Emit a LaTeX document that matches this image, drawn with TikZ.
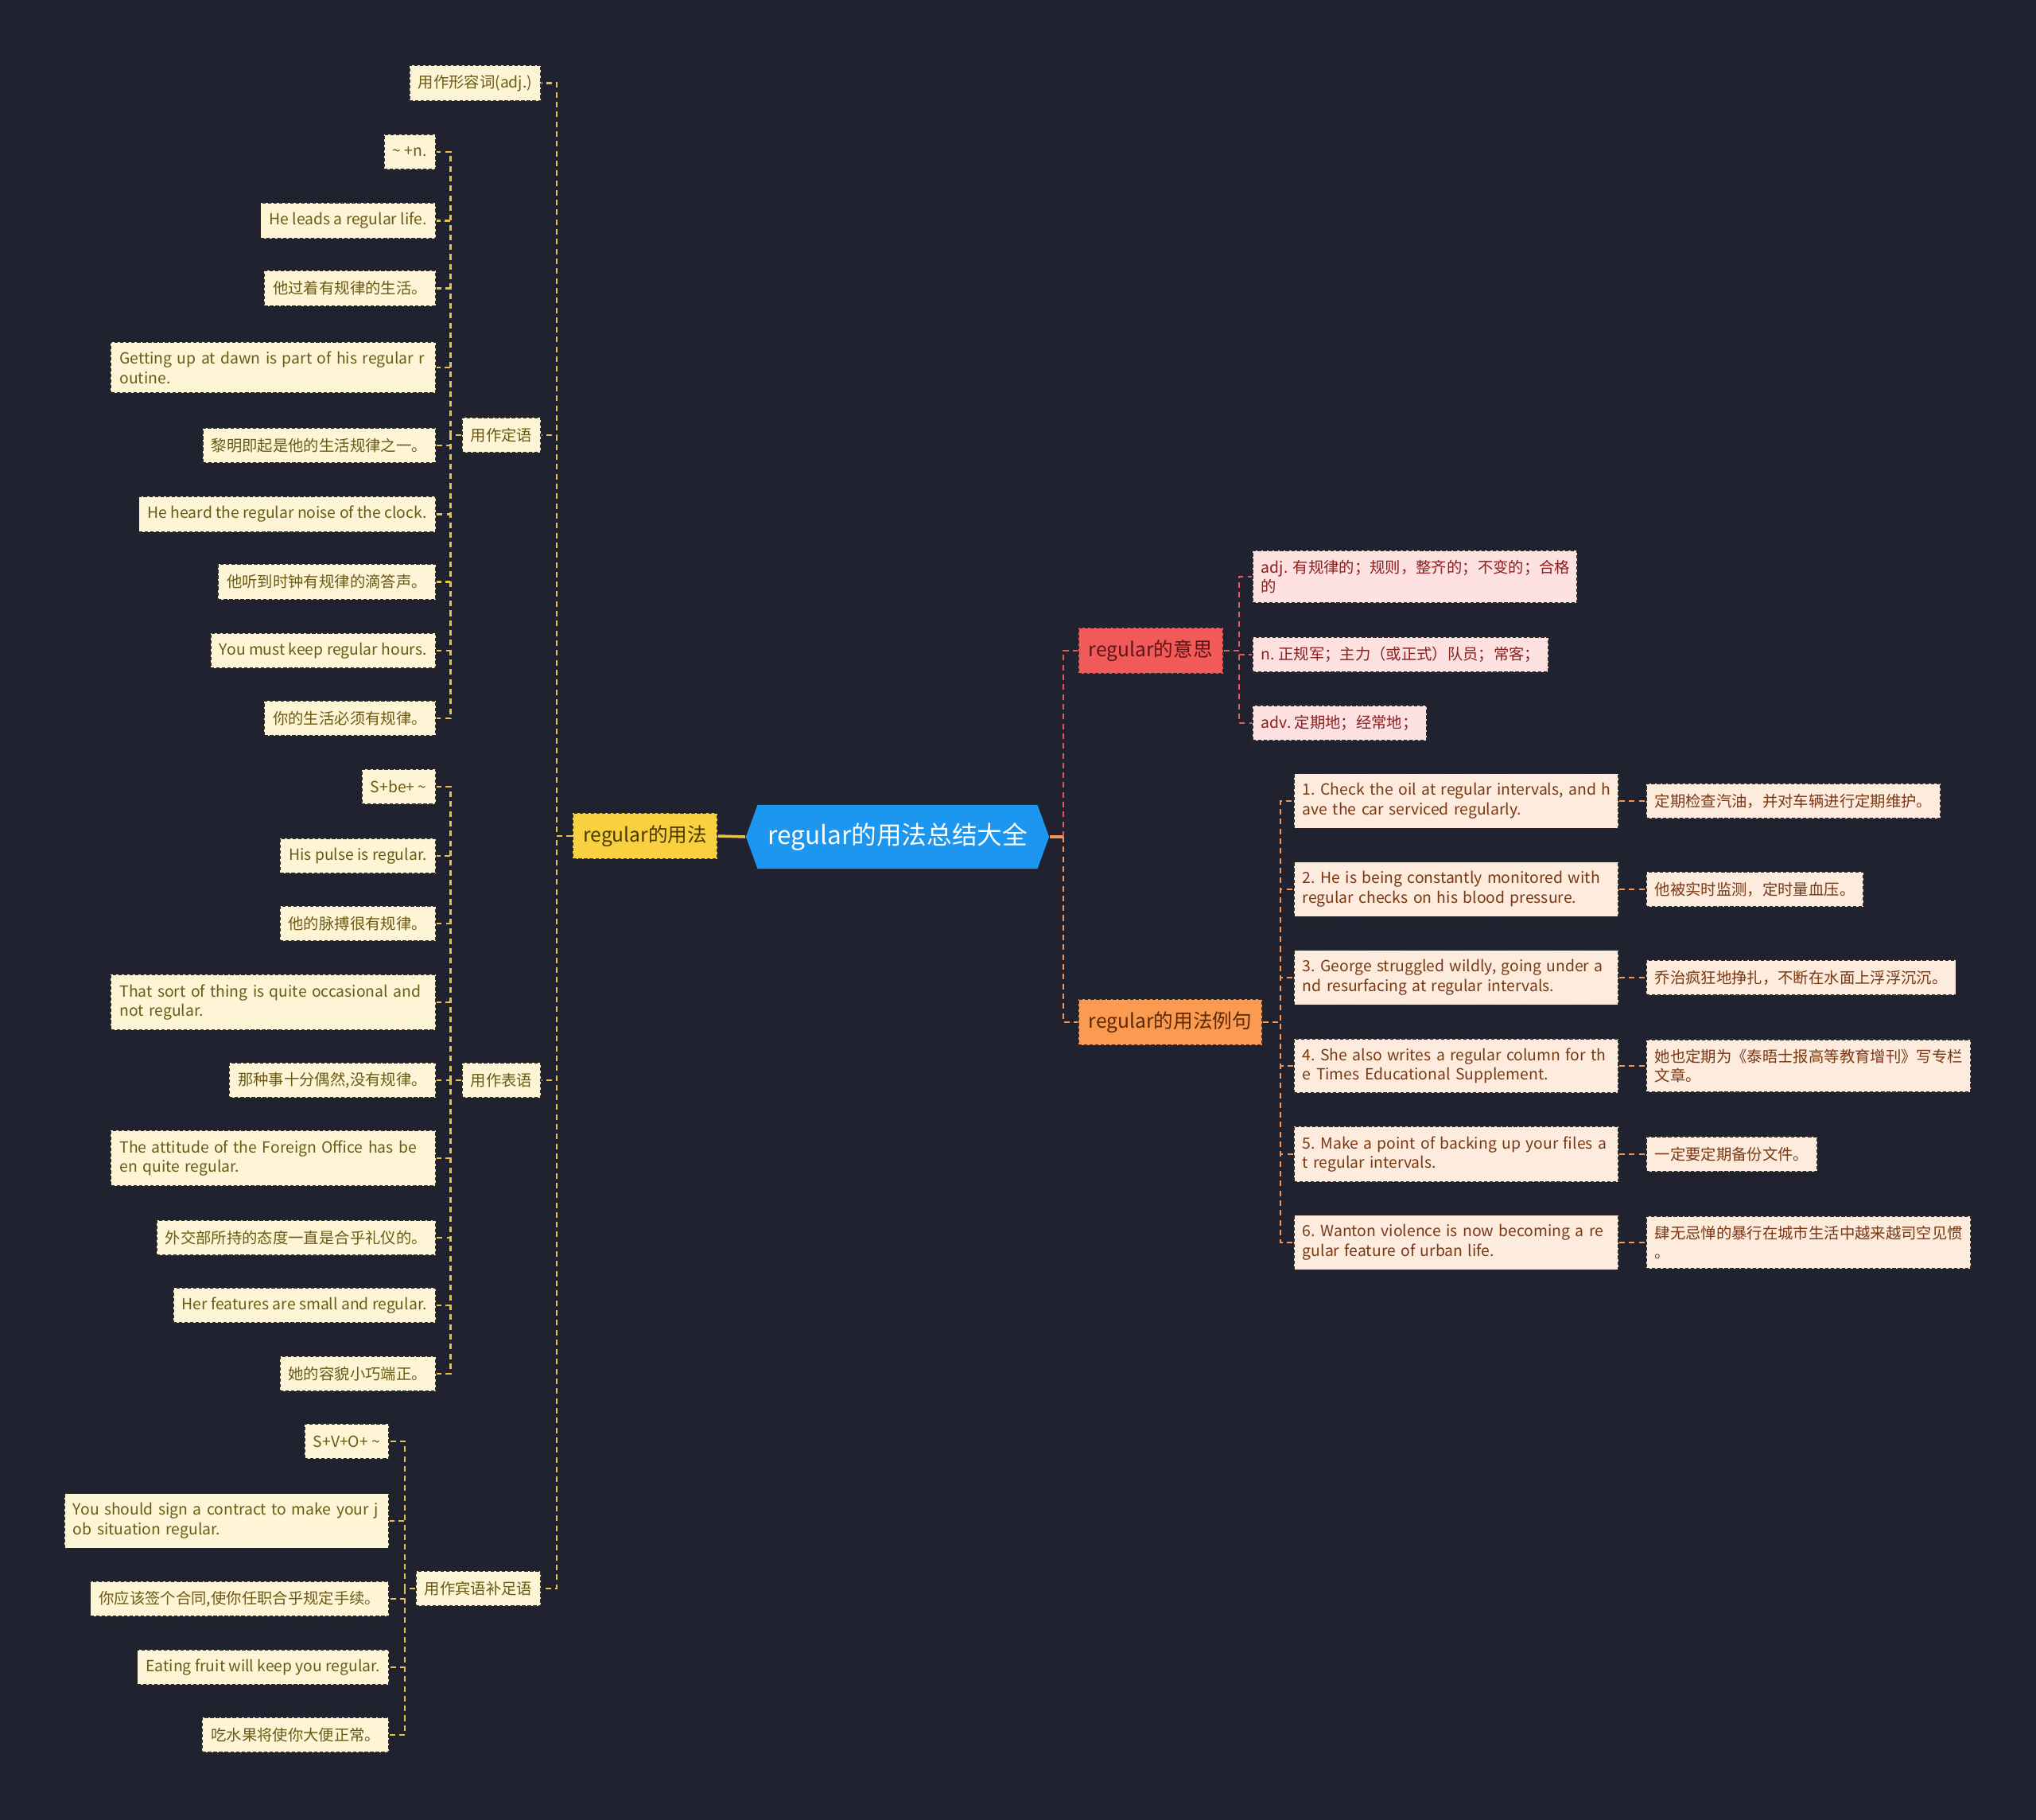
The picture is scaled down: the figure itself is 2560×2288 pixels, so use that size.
\documentclass[tikz,border=0pt]{standalone}
\usepackage{fontspec}
\setmainfont{Noto Sans CJK SC}
\usepackage{xcolor}
\usetikzlibrary{positioning, shapes.symbols}

\definecolor{bgcol}{HTML}{20232F}
\definecolor{boxline}{HTML}{2A2A2A}
\definecolor{rootcol}{HTML}{1C96EE}
\definecolor{usecol}{HTML}{F9D03F}
\definecolor{usetext}{HTML}{4A3A00}
\definecolor{headred}{HTML}{F25A5A}
\definecolor{headredtext}{HTML}{5A1616}
\definecolor{headorange}{HTML}{FB9A50}
\definecolor{headorangetext}{HTML}{5A2A08}
\definecolor{leafcol}{HTML}{FDF5D6}
\definecolor{leaftext}{HTML}{6B5A14}
\definecolor{meancol}{HTML}{FDE1E1}
\definecolor{meantext}{HTML}{8A1F1F}
\definecolor{explcol}{HTML}{FDEBDD}
\definecolor{expltext}{HTML}{7A3812}
\definecolor{lineY}{HTML}{E8C34C}
\definecolor{lineR}{HTML}{E25B5B}
\definecolor{lineO}{HTML}{F2965A}

\newcommand{\twolines}[2]{\mbox{#1}\\\mbox{#2}}
\frenchspacing

\begin{document}
\begin{tikzpicture}[
    x=0.01cm, y=-0.01cm,
    box/.style={
      draw=boxline,
      dash pattern=on 1.2pt off 0.8pt,
      line width=0.5pt,
      font=\fontsize{5.5}{7}\selectfont,
      inner xsep=0.11cm,
      inner ysep=0.12cm,
      minimum height=0.44cm,
      align=left
    },
    leaf/.style={box, fill=leafcol, text=leaftext, anchor=east},
    wide/.style={text width=3.86cm},
    mean/.style={box, fill=meancol, text=meantext, anchor=west},
    expl/.style={box, fill=explcol, text=expltext, anchor=west},
    head/.style={
      draw=boxline,
      dash pattern=on 1.2pt off 0.8pt,
      line width=0.5pt,
      font=\fontsize{7}{8}\selectfont,
      inner xsep=0.13cm,
      minimum height=0.57cm
    },
    root/.style={
      signal, signal to=east and west,
      signal pointer angle=140,
      fill=rootcol, text=white,
      font=\fontsize{9}{10}\selectfont,
      minimum width=3.81cm,
      minimum height=0.8cm
    },
    linkY/.style={draw=lineY, dash pattern=on 2pt off 1.5pt, line width=0.6pt},
    linkR/.style={draw=lineR, dash pattern=on 2pt off 1.5pt, line width=0.6pt},
    linkO/.style={draw=lineO, dash pattern=on 2pt off 1.5pt, line width=0.6pt}
  ]

  \fill[bgcol] (0,0) rectangle (2560,2288);
  \useasboundingbox (0,0) rectangle (2560,2288);

  % spines
  \coordinate (spL) at (700,0);
  \coordinate (spA) at (566.5,0);
  \coordinate (spO) at (509,0);
  \coordinate (spR) at (1337,0);
  \coordinate (spM) at (1558,0);
  \coordinate (spE) at (1610,0);

  % centre
  \node[root] (root) at (1128.5,1052) {regular的用法总结大全};

  \node[head, fill=usecol, text=usetext, anchor=east] (use) at (903,1051) {regular的用法};
  \node[head, fill=headred, text=headredtext, anchor=west] (meaning) at (1355,818) {regular的意思};
  \node[head, fill=headorange, text=headorangetext, anchor=west] (examples) at (1355,1285) {regular的用法例句};

  % left: categories
  \node[leaf] (adj) at (681,104.5) {用作形容词(adj.)};
  \node[leaf] (ding) at (681,547) {用作定语};
  \node[leaf] (biao) at (681,1358) {用作表语};
  \node[leaf] (bin) at (681,1997) {用作宾语补足语};

  % 用作定语
  \node[leaf] (d1) at (548.6,191) {\textasciitilde{} +n.};
  \node[leaf] (d2) at (548.6,277.5) {He leads a regular life.};
  \node[leaf] (d3) at (548.6,362.5) {他过着有规律的生活。};
  \node[leaf, wide] (d4) at (548.6,462) {\twolines{Getting up at dawn is part of his regular r}{outine.}};
  \node[leaf] (d5) at (548.6,560) {黎明即起是他的生活规律之一。};
  \node[leaf] (d6) at (548.6,646.5) {He heard the regular noise of the clock.};
  \node[leaf] (d7) at (548.6,731.5) {他听到时钟有规律的滴答声。};
  \node[leaf] (d8) at (548.6,818) {You must keep regular hours.};
  \node[leaf] (d9) at (548.6,903) {你的生活必须有规律。};

  % 用作表语
  \node[leaf] (b1) at (548.6,989) {S+be+ \textasciitilde};
  \node[leaf] (b2) at (548.6,1076) {His pulse is regular.};
  \node[leaf] (b3) at (548.6,1161) {他的脉搏很有规律。};
  \node[leaf, wide] (b4) at (548.6,1260) {\twolines{That sort of thing is quite occasional and}{not regular.}};
  \node[leaf] (b5) at (548.6,1358) {那种事十分偶然,没有规律。};
  \node[leaf, wide] (b6) at (548.6,1456) {\twolines{The attitude of the Foreign Office has be}{en quite regular.}};
  \node[leaf] (b7) at (548.6,1556) {外交部所持的态度一直是合乎礼仪的。};
  \node[leaf] (b8) at (548.6,1641) {Her features are small and regular.};
  \node[leaf] (b9) at (548.6,1727) {她的容貌小巧端正。};

  % 用作宾语补足语
  \node[leaf] (o1) at (490,1812) {S+V+O+ \textasciitilde};
  \node[leaf, wide] (o2) at (490,1912) {\twolines{You should sign a contract to make your j}{ob situation regular.}};
  \node[leaf] (o3) at (490,2010) {你应该签个合同,使你任职合乎规定手续。};
  \node[leaf] (o4) at (490,2096) {Eating fruit will keep you regular.};
  \node[leaf] (o5) at (490,2181) {吃水果将使你大便正常。};

  % right: meanings
  \node[mean, wide] (m1) at (1574,725) {\twolines{adj. 有规律的；规则，整齐的；不变的；合格}{的}};
  \node[mean] (m2) at (1574,823) {n. 正规军；主力（或正式）队员；常客；};
  \node[mean] (m3) at (1574,909) {adv. 定期地；经常地；};

  % right: examples and translations
  \node[expl, wide] (e1) at (1626,1007) {\twolines{1. Check the oil at regular intervals, and h}{ave the car serviced regularly.}};
  \node[expl, wide] (e2) at (1626,1118) {\twolines{2. He is being constantly monitored with}{regular checks on his blood pressure.}};
  \node[expl, wide] (e3) at (1626,1229) {\twolines{3. George struggled wildly, going under a}{nd resurfacing at regular intervals.}};
  \node[expl, wide] (e4) at (1626,1340) {\twolines{4. She also writes a regular column for th}{e Times Educational Supplement.}};
  \node[expl, wide] (e5) at (1626,1451) {\twolines{5. Make a point of backing up your files a}{t regular intervals.}};
  \node[expl, wide] (e6) at (1626,1562) {\twolines{6. Wanton violence is now becoming a re}{gular feature of urban life.}};

  \node[expl] (t1) at (2069,1007) {定期检查汽油，并对车辆进行定期维护。};
  \node[expl] (t2) at (2069,1118) {他被实时监测，定时量血压。};
  \node[expl] (t3) at (2069,1229) {乔治疯狂地挣扎，不断在水面上浮浮沉沉。};
  \node[expl, wide] (t4) at (2069,1340) {\twolines{她也定期为《泰晤士报高等教育增刊》写专栏}{文章。}};
  \node[expl] (t5) at (2069,1451) {一定要定期备份文件。};
  \node[expl, wide] (t6) at (2069,1562) {\twolines{肆无忌惮的暴行在城市生活中越来越司空见惯}{。}};

  % connectors
  \draw[lineY, line width=1pt] (root.west) -- (use.east);
  \draw[lineO, line width=1pt] (root.east) -- (root.east -| spR);
  \draw[linkR] (root.east -| spR) |- (meaning.west);
  \draw[linkO] (root.east -| spR) |- (examples.west);

  \foreach \c in {adj,ding,biao,bin}
    \draw[linkY] (use.west) -- (use.west -| spL) |- (\c.east);
  \foreach \i in {1,...,9}
    \draw[linkY] (ding.west) -- (ding.west -| spA) |- (d\i.east);
  \foreach \i in {1,...,9}
    \draw[linkY] (biao.west) -- (biao.west -| spA) |- (b\i.east);
  \foreach \i in {1,...,5}
    \draw[linkY] (bin.west) -- (bin.west -| spO) |- (o\i.east);

  \foreach \i in {1,2,3}
    \draw[linkR] (meaning.east) -- (meaning.east -| spM) |- (m\i.west);
  \foreach \i in {1,...,6} {
    \draw[linkO] (examples.east) -- (examples.east -| spE) |- (e\i.west);
    \draw[linkO] (e\i.east) -- (t\i.west);
  }

\end{tikzpicture}
\end{document}
